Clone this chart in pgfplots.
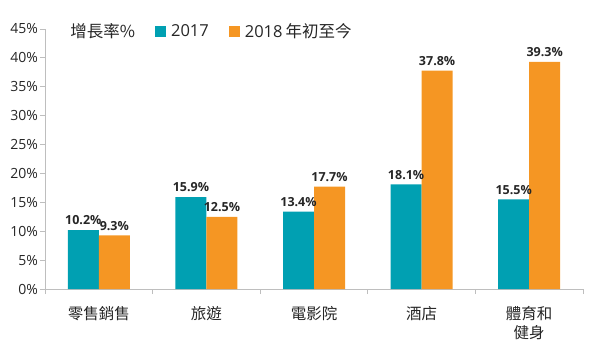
\documentclass[border=0pt]{standalone}
\usepackage{pgfplots}
\pgfplotsset{compat=1.18}
\usepackage{fontspec}
\setmainfont{Open Sans}
\newfontfamily\cjk{Noto Sans CJK TC}
\definecolor{tealc}{RGB}{0,160,178}
\definecolor{orangec}{RGB}{245,150,35}
\definecolor{axgray}{RGB}{190,190,190}
\begin{document}
\begin{tikzpicture}[x=1pt,y=1pt]
\useasboundingbox (-45,-64) rectangle (548,289);
\begin{axis}[
  at={(0,0)}, anchor=south west,
  scale only axis, width=538pt, height=260pt,
  ymin=0, ymax=45, ytick={0,5,...,45},
  xmin=-0.5, xmax=4.5,
  xtick={0,1,2,3,4},
  xticklabels={{\cjk 零售銷售},{\cjk 旅遊},{\cjk 電影院},{\cjk 酒店},{\cjk 體育和\\\cjk 健身}},
  minor xtick={-0.5,0.5,1.5,2.5,3.5,4.5},
  major x tick style={draw=none},
  minor tick length=5pt,
  major tick length=5pt,
  tick align=outside,
  tick style={axgray, line width=0.8pt},
  x axis line style={axgray, line width=0.8pt},
  y axis line style={axgray, line width=0.8pt},
  axis x line*=bottom, axis y line*=left,
  separate axis lines,
  /pgf/number format/assume math mode=true,
  yticklabel={\pgfmathprintnumber{\tick}\%},
  yticklabel style={font=\fontsize{14}{16}\selectfont, text=black!85, xshift=1.5pt},
  xticklabel style={font=\fontsize{15.5}{19}\selectfont, align=center, text=black!85, yshift=-9pt, anchor=north},
  ybar, bar width=31pt,
  enlarge x limits=false,
  nodes near coords={\pgfmathprintnumber[fixed,precision=1,fixed zerofill]{\pgfplotspointmeta}\%},
  nodes near coords style={font=\bfseries\fontsize{12.5}{14}\selectfont, text=black!85, yshift=1.5pt},
  legend style={at={(0.032,0.99)}, anchor=west, draw=none, fill=none,
    legend columns=-1, font=\fontsize{16.5}{19}\selectfont, text=black!85,
    /tikz/every odd column/.append style={column sep=3pt},
    /tikz/every even column/.append style={column sep=18pt}},
  legend image code/.code={\fill[#1] (0pt,-5.5pt) rectangle (11pt,5.5pt);},
  clip=false,
]
\addlegendimage{empty legend}
\addlegendentry{\cjk\fontsize{16.5}{18}\selectfont 增長率\%}
\addplot[fill=tealc, draw=none, bar shift=-15.5pt] coordinates {(0,10.2) (1,15.9) (2,13.4) (3,18.1) (4,15.5)};
\addlegendentry{2017}
\addplot[fill=orangec, draw=none, bar shift=15.5pt] coordinates {(0,9.3) (1,12.5) (2,17.7) (3,37.8) (4,39.3)};
\addlegendentry{2018\hspace{3pt}{\cjk 年初至今}}
\end{axis}
\end{tikzpicture}
\end{document}
